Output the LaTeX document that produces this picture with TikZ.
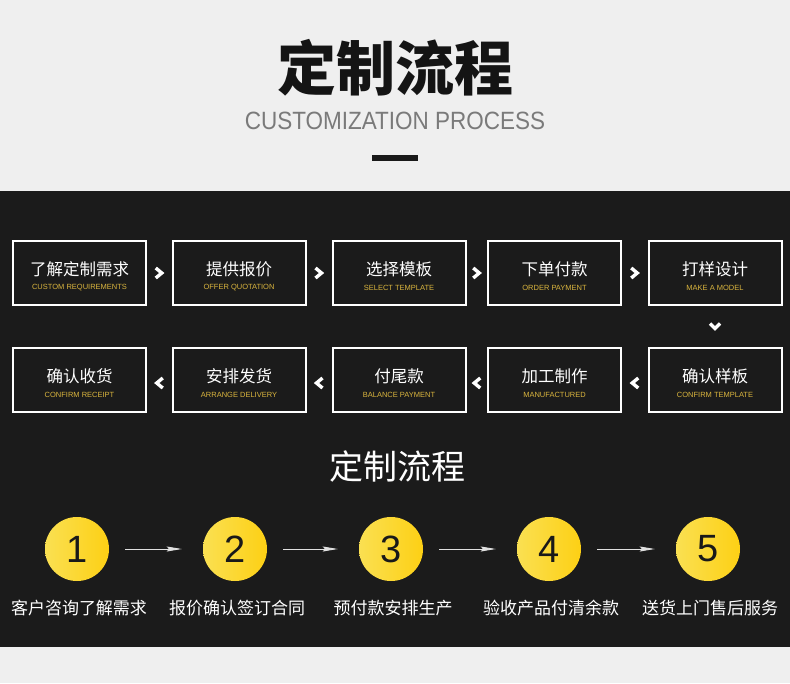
\documentclass[tikz,border=0pt]{standalone}
\usepackage{fontspec}
\setmainfont{Liberation Sans}
\newfontfamily\cjk{Noto Sans CJK SC}
\usetikzlibrary{arrows.meta,calc,shadings}
\definecolor{bgdark}{HTML}{1B1B1B}
\definecolor{bglight}{HTML}{EFEFEF}
\definecolor{gold}{HTML}{D9B43E}
\definecolor{ylight}{HTML}{FAE052}
\definecolor{ydark}{HTML}{FDD014}
\tikzset{
  stepbox/.style={draw=white,line width=2pt,fill=bgdark,minimum width=133pt,minimum height=64pt,inner sep=0pt},
  cntxt/.style={text=white,font=\cjk\fontsize{16.5}{18}\selectfont},
  entxt/.style={text=gold,font=\fontsize{7.5}{8}\selectfont},
  chev/.style={draw=white,line width=3.4pt,miter limit=10},
  numc/.style={circle,minimum size=64pt,inner sep=0pt,left color=ylight,right color=ydark,font=\fontsize{38}{40}\selectfont,text=black!90},
  flowarr/.style={draw=white!88!black,line width=0.9pt,-{Stealth[length=15pt,width=5pt,inset=2pt]}},
  lbl/.style={text=white,font=\cjk\fontsize{17}{18}\selectfont}
}
\begin{document}
\begin{tikzpicture}[x=1pt,y=-1pt]
\useasboundingbox (0,0) rectangle (790,683);
\fill[bglight] (0,0) rectangle (790,683);
\fill[bgdark] (0,191) rectangle (790,647);
% header
\node (title) [text=black!92, font=\cjk\bfseries\fontsize{59}{60}\selectfont] at (395,68) {定制流程};
\node (sub) [text=black!52, font=\fontsize{25}{27}\selectfont, xscale=0.9] at (395,121) {CUSTOMIZATION PROCESS};
\node (bar) [fill=black!90, minimum width=46pt, minimum height=6pt, inner sep=0pt] at (395,158) {};
% row 1
\node[stepbox] (b1) at (79.5,273) {};
\node[stepbox] (b2) at (239,273) {};
\node[stepbox] (b3) at (399,273) {};
\node[stepbox] (b4) at (554.5,273) {};
\node[stepbox] (b5) at (715,273) {};
% row 2
\node[stepbox] (c1) at (79.5,380) {};
\node[stepbox] (c2) at (239,380) {};
\node[stepbox] (c3) at (399,380) {};
\node[stepbox] (c4) at (554.5,380) {};
\node[stepbox] (c5) at (715,380) {};
% texts
\foreach \n/\a/\b in {b1/了解定制需求/CUSTOM REQUIREMENTS, b2/提供报价/OFFER QUOTATION, b3/选择模板/SELECT TEMPLATE, b4/下单付款/ORDER PAYMENT, b5/打样设计/MAKE A MODEL, c1/确认收货/CONFIRM RECEIPT, c2/安排发货/ARRANGE DELIVERY, c3/付尾款/BALANCE PAYMENT, c4/加工制作/MANUFACTURED, c5/确认样板/CONFIRM TEMPLATE}{
  \node[cntxt] at ($(\n.center)+(0,-4)$) {\a};
  \node[entxt] at ($(\n.center)+(0,15)$) {\b};
}
% chevrons row 1
\foreach \p/\q in {b1/b2,b2/b3,b3/b4,b4/b5}{
  \coordinate (m) at ($(\p.east)!0.5!(\q.west)$);
  \draw[chev] ($(m)+(-3.5,-5)$) -- ($(m)+(2.5,0)$) -- ($(m)+(-3.5,5)$);
}
% chevrons row 2
\foreach \p/\q in {c1/c2,c2/c3,c3/c4,c4/c5}{
  \coordinate (m) at ($(\p.east)!0.5!(\q.west)$);
  \draw[chev] ($(m)+(3.5,-2)$) -- ($(m)+(-2.5,3)$) -- ($(m)+(3.5,8)$);
}
% down chevron
\coordinate (md) at ($(b5.south)!0.5!(c5.north)$);
\draw[chev] ($(md)+(-5,-3)$) -- ($(md)+(0,2)$) -- ($(md)+(5,-3)$);
% section 2
\node (t2) [text=white, font=\cjk\fontsize{34}{36}\selectfont] at (397,467) {定制流程};
\node[numc] (n1) at (77,549) {1};
\node[numc] (n2) at (235,549) {2};
\node[numc] (n3) at (391,549) {3};
\node[numc] (n4) at (549,549) {4};
\node[numc] (n5) at (708,549) {5};
\foreach \p/\q in {n1/n2,n2/n3,n3/n4,n4/n5}{
  \draw[flowarr, shorten <=16pt, shorten >=21pt] (\p) -- (\q);
}
\node[lbl] (l1) at (79,608) {客户咨询了解需求};
\node[lbl] (l2) at (237,608) {报价确认签订合同};
\node[lbl] (l3) at (393,608) {预付款安排生产};
\node[lbl] (l4) at (551,608) {验收产品付清余款};
\node[lbl] (l5) at (710,608) {送货上门售后服务};
\end{tikzpicture}
\end{document}
